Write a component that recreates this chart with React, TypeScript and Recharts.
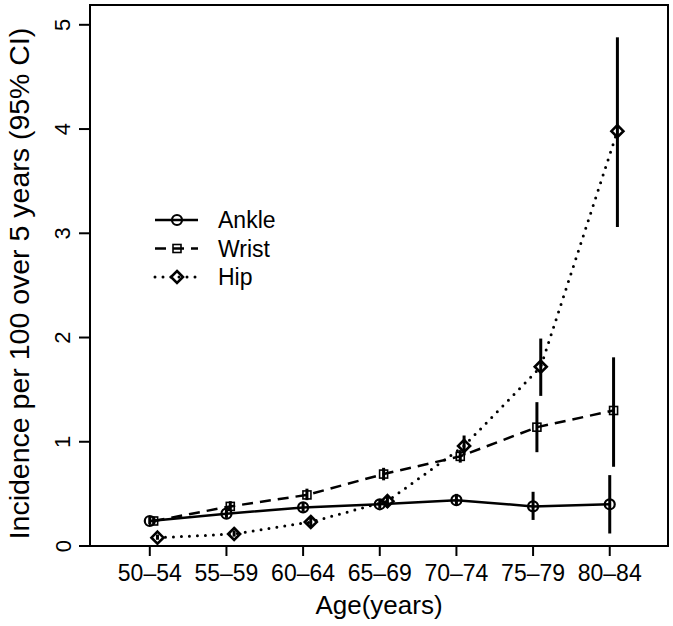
import React from "react";
import {
  ComposedChart,
  Line,
  XAxis,
  YAxis,
  ErrorBar,
  ReferenceArea,
} from "recharts";

const AGE_GROUPS = ["50–54", "55–59", "60–64", "65–69", "70–74", "75–79", "80–84"];
const Y_TICKS = [0, 1, 2, 3, 4, 5];

const ANKLE_RATE = [0.24, 0.31, 0.37, 0.4, 0.44, 0.38, 0.4];
const ANKLE_LOW = [0.21, 0.27, 0.33, 0.36, 0.39, 0.25, 0.12];
const ANKLE_HIGH = [0.28, 0.35, 0.42, 0.45, 0.5, 0.52, 0.68];

const WRIST_RATE = [0.24, 0.38, 0.49, 0.69, 0.86, 1.14, 1.3];
const WRIST_LOW = [0.21, 0.34, 0.44, 0.63, 0.8, 0.9, 0.76];
const WRIST_HIGH = [0.28, 0.43, 0.55, 0.75, 0.92, 1.38, 1.81];

const HIP_RATE = [0.08, 0.115, 0.23, 0.43, 0.96, 1.72, 3.98];
const HIP_LOW = [0.06, 0.09, 0.19, 0.37, 0.87, 1.44, 3.06];
const HIP_HIGH = [0.11, 0.15, 0.28, 0.49, 1.06, 1.99, 4.88];

const FONT = "'Liberation Sans', Arial, Helvetica, sans-serif";
const X_DOMAIN: [number, number] = [0.22, 7.76];
const Y_DOMAIN: [number, number] = [0, 5.19];

if (typeof document !== "undefined") {
  document.body.style.margin = "0";
  document.body.style.overflow = "hidden";
}

// small horizontal dodge so the three series don't sit on top of each other
const build = (rate: number[], low: number[], high: number[], dodge: number) =>
  rate.map((v, i) => ({ x: i + 1 + dodge, y: v, err: [v - low[i], high[i] - v] }));

const ankle = build(ANKLE_RATE, ANKLE_LOW, ANKLE_HIGH, 0);
const wrist = build(WRIST_RATE, WRIST_LOW, WRIST_HIGH, 0.05);
const hip = build(HIP_RATE, HIP_LOW, HIP_HIGH, 0.1);

const CircleMark = ({ cx, cy }: { cx: number; cy: number }) => (
  <circle cx={cx} cy={cy} r={5} fill="none" stroke="#000" strokeWidth={2.2} />
);
const SquareMark = ({ cx, cy }: { cx: number; cy: number }) => (
  <rect x={cx - 4} y={cy - 4} width={8} height={8} fill="none" stroke="#000" strokeWidth={1.6} />
);
const DiamondMark = ({ cx, cy }: { cx: number; cy: number }) => (
  <polygon
    points={`${cx},${cy - 6} ${cx + 6},${cy} ${cx},${cy + 6} ${cx - 6},${cy}`}
    fill="none"
    stroke="#000"
    strokeWidth={2.6}
  />
);

const YTick = (props: any) => {
  const { x, y, payload } = props;
  const tx = x - 14;
  return (
    <text
      x={tx}
      y={y}
      transform={`rotate(-90 ${tx} ${y})`}
      textAnchor="middle"
      dominantBaseline="central"
      fontSize={22}
      fontFamily={FONT}
      fill="#000"
    >
      {payload.value}
    </text>
  );
};

const XTick = (props: any) => {
  const { x, y, payload } = props;
  return (
    <text x={x} y={y + 15} textAnchor="middle" dominantBaseline="central" fontSize={23} fontFamily={FONT} fill="#000">
      {AGE_GROUPS[payload.value - 1]}
    </text>
  );
};

const XTitle = (props: any) => {
  const { viewBox } = props;
  return (
    <text
      x={viewBox.x + viewBox.width / 2}
      y={viewBox.y + 68}
      textAnchor="middle"
      fontSize={26}
      fontFamily={FONT}
      fill="#000"
    >
      Age(years)
    </text>
  );
};

const YTitle = (props: any) => {
  const { viewBox } = props;
  const cx = 19;
  const cy = viewBox.y + viewBox.height / 2 + 8;
  return (
    <text
      x={cx}
      y={cy}
      transform={`rotate(-90 ${cx} ${cy})`}
      textAnchor="middle"
      dominantBaseline="central"
      fontSize={28.5}
      fontFamily={FONT}
      fill="#000"
    >
      Incidence per 100 over 5 years (95% CI)
    </text>
  );
};

const LEGEND = [
  { name: "Ankle", dash: undefined as string | undefined, mark: CircleMark },
  { name: "Wrist", dash: "11 7", mark: SquareMark },
  { name: "Hip", dash: "0 8", mark: DiamondMark },
];

function LegendBox() {
  return (
    <svg width={200} height={100} style={{ position: "absolute", left: 145, top: 195 }}>
      {LEGEND.map((item, i) => {
        const y = 25 + i * 28.5;
        const Mark = item.mark;
        return (
          <g key={item.name}>
            <line
              x1={10}
              x2={53}
              y1={y}
              y2={y}
              stroke="#000"
              strokeWidth={item.name === "Hip" ? 3 : 2.5}
              strokeDasharray={item.dash}
              strokeLinecap={item.name === "Hip" ? "round" : "butt"}
            />
            <Mark cx={32} cy={y} />
            <text x={73} y={y} dominantBaseline="central" fontSize={23} fontFamily={FONT} fill="#000">
              {item.name}
            </text>
          </g>
        );
      })}
    </svg>
  );
}

export default function App() {
  return (
    <div style={{ position: "relative", width: 673, height: 626, background: "#fff", overflow: "hidden" }}>
      <ComposedChart width={673} height={626} margin={{ top: 5, right: 5, bottom: 0, left: 0 }}>
        <XAxis
          type="number"
          dataKey="x"
          domain={X_DOMAIN}
          ticks={[1, 2, 3, 4, 5, 6, 7]}
          allowDataOverflow
          height={80}
          axisLine={false}
          tickSize={10}
          tickLine={{ stroke: "#000", strokeWidth: 2 }}
          tick={<XTick />}
          label={<XTitle />}
        />
        <YAxis
          type="number"
          domain={Y_DOMAIN}
          ticks={Y_TICKS}
          allowDataOverflow
          width={90}
          axisLine={false}
          tickSize={11}
          tickLine={{ stroke: "#000", strokeWidth: 2 }}
          tick={<YTick />}
          label={<YTitle />}
        />
        <ReferenceArea
          x1={X_DOMAIN[0]}
          x2={X_DOMAIN[1]}
          y1={Y_DOMAIN[0]}
          y2={Y_DOMAIN[1]}
          fill="none"
          stroke="#000"
          strokeWidth={2}
          ifOverflow="visible"
        />
        <Line
          data={ankle}
          dataKey="y"
          type="linear"
          stroke="#000"
          strokeWidth={2.5}
          dot={(p: any) => <CircleMark key={p.index} cx={p.cx} cy={p.cy} />}
          activeDot={false}
          isAnimationActive={false}
        >
          <ErrorBar dataKey="err" direction="y" width={0} stroke="#000" strokeWidth={3} />
        </Line>
        <Line
          data={wrist}
          dataKey="y"
          type="linear"
          stroke="#000"
          strokeWidth={2.5}
          strokeDasharray="11 7"
          dot={(p: any) => <SquareMark key={p.index} cx={p.cx} cy={p.cy} />}
          activeDot={false}
          isAnimationActive={false}
        >
          <ErrorBar dataKey="err" direction="y" width={0} stroke="#000" strokeWidth={3} />
        </Line>
        <Line
          data={hip}
          dataKey="y"
          type="linear"
          stroke="#000"
          strokeWidth={3}
          strokeDasharray="0 8"
          strokeLinecap="round"
          dot={(p: any) => <DiamondMark key={p.index} cx={p.cx} cy={p.cy} />}
          activeDot={false}
          isAnimationActive={false}
        >
          <ErrorBar dataKey="err" direction="y" width={0} stroke="#000" strokeWidth={3} />
        </Line>
      </ComposedChart>
      <LegendBox />
    </div>
  );
}
